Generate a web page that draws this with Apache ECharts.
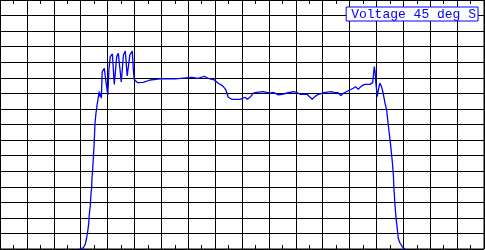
<!DOCTYPE html>
<html>
<head>
<meta charset="utf-8">
<script src="https://cdn.jsdelivr.net/npm/echarts@6/dist/echarts.min.js"></script>
<style>html,body{margin:0;padding:0;background:#fff;}#c{width:485px;height:250px;}</style>
</head>
<body>
<div id="c"></div>
<script>
// x in grid divisions (18 across), y in grid divisions (16 up)
const seriesName = "Voltage 45 deg S";
const xVals = [2.95,3.10,3.17,3.22,3.26,3.30,3.32,3.36,3.38,3.41,3.42,3.45,3.47,3.50,3.52,3.53,3.57,3.61,3.66,3.69,3.72,3.74,3.77,3.80,3.88,3.90,3.94,4.01,4.05,4.10,4.18,4.25,4.34,4.40,4.51,4.59,4.66,4.73,4.83,4.92,4.96,4.99,5.11,5.33,5.58,5.95,6.51,7.13,7.36,7.60,7.70,7.81,7.97,8.12,8.28,8.39,8.49,8.62,8.93,9.11,9.20,9.32,9.42,9.55,9.79,10.04,10.16,10.35,10.41,10.54,10.72,10.91,11.03,11.16,11.41,11.53,11.61,11.71,11.84,12.09,12.34,12.46,12.58,12.67,12.77,12.95,13.14,13.23,13.32,13.45,13.57,13.76,13.86,13.92,13.95,13.98,14.03,14.07,14.13,14.19,14.25,14.32,14.38,14.44,14.50,14.54,14.59,14.63,14.65,14.69,14.73,14.78,14.81,14.88,14.96,15.06];
const yVals = [0,0.08,0.30,0.69,1.11,1.65,2.19,2.83,3.47,4.00,4.54,5.19,5.83,6.68,7.54,8.03,8.74,9.25,9.79,10.11,9.79,10.01,9.69,11.39,11.61,11.50,10.75,9.90,11.50,12.36,12.53,10.58,12.36,12.58,10.73,12.47,12.72,11.12,12.47,12.72,11.50,10.91,10.69,10.71,10.86,10.93,10.93,11.03,10.96,11.10,10.99,10.93,10.86,10.65,10.48,10.26,9.75,9.62,9.62,9.75,9.62,9.79,10.01,10.07,10.11,10.01,10.07,9.90,9.96,9.96,10.04,10.11,10.07,9.94,9.96,9.75,9.62,9.79,9.94,10.07,10.11,10.04,10.04,9.85,10.01,10.17,10.33,10.43,10.26,10.48,10.58,10.58,10.69,11.72,11.39,10.65,9.79,10.22,10.65,10.43,10.01,9.36,8.93,7.97,7.11,6.47,5.61,4.76,3.90,2.83,1.97,1.22,0.69,0.37,0.15,0];

const data = xVals.map((x, i) => [x, yVals[i]]);
const chart = echarts.init(document.getElementById('c'), null, {renderer: 'canvas'});
const xCommon = {
  type: 'value', min: 0, max: 18, interval: 1,
  axisLabel: {show: false},
  axisLine: {show: false},
  axisTick: {show: true, inside: true, length: 4, lineStyle: {color: '#000', width: 1}},
  minorTick: {show: true, splitNumber: 2, length: 4, lineStyle: {color: '#000', width: 1}}
};
chart.setOption({
  animation: false,
  backgroundColor: '#fff',
  grid: {left: 0, right: 1, top: 0, bottom: 1, show: true, borderColor: '#000', borderWidth: 1, backgroundColor: 'transparent'},
  legend: {
    right: 7, top: 7, icon: 'none', itemWidth: 0, itemHeight: 0,
    padding: [1, 2, 0, 0],
    borderColor: '#0000ff', borderWidth: 1, backgroundColor: '#fff',
    selectedMode: false,
    textStyle: {fontFamily: 'Liberation Mono', fontSize: 13, color: '#0000ff'},
    data: [seriesName]
  },
  xAxis: [
    Object.assign({}, xCommon, {position: 'bottom', splitLine: {show: true, lineStyle: {color: '#000', width: 1}}}),
    Object.assign({}, xCommon, {position: 'top', splitLine: {show: false}})
  ],
  yAxis: {
    type: 'value', min: 0, max: 16, interval: 1,
    axisLabel: {show: false}, axisLine: {show: false}, axisTick: {show: false},
    splitLine: {show: true, lineStyle: {color: '#000', width: 1}}
  },
  series: [{
    name: seriesName, type: 'line', data: data, xAxisIndex: 0,
    showSymbol: false, symbol: 'none',
    lineStyle: {color: '#0000ff', width: 1.3}, itemStyle: {color: '#0000ff'}
  }]
});
</script>
</body>
</html>
